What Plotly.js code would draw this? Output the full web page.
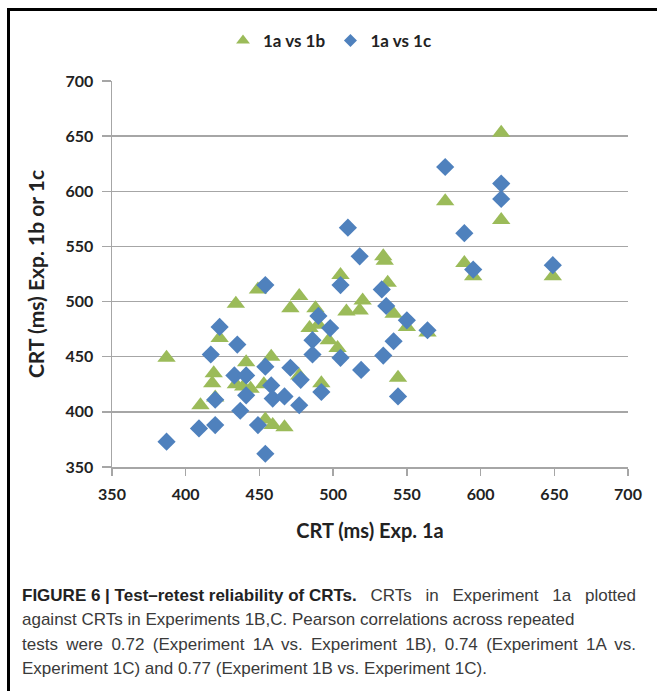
<!DOCTYPE html>
<html>
<head>
<meta charset="utf-8">
<script src="https://cdn.plot.ly/plotly-3.0.1.min.js"></script>
<style>
  html, body { margin: 0; padding: 0; background: #ffffff; overflow: hidden; }
  #frame { position: absolute; left: 7px; top: 8px; width: 700px; height: 720px; border: 3px solid #000; box-sizing: border-box; }
  #chart { position: absolute; left: 0; top: 0; width: 657px; height: 691px; }
  #caption { position: absolute; left: 22px; top: 584px; width: 614px;
             font-family: 'Liberation Sans', Arial, sans-serif; font-size: 17px; line-height: 24.3px; color: #3a3a3a; }
  #caption div { white-space: nowrap; }
  #caption .j { text-align: justify; text-align-last: justify; white-space: normal; }
  #caption b { color: #222; display: inline-block; }
</style>
</head>
<body>
<div id="frame"></div>
<div id="chart"></div>
<div id="caption"></div>
<script>
// Series "1a vs 1b" (green triangles)
const x1b = [387,410,418,419,420,423,434,434,439,444,441,449,453,454,458,459,467,471,477,477,484,488,490,492,497,503,505,509,518,520,534,535,537,541,544,550,564,576,589,595,614,614,649];
const y1b = [449,406,426,435,413,467,498,425,423,421,445,511,425,393,450,388,386,494,505,433,476,494,479,426,465,458,524,491,492,501,541,537,517,489,431,477,472,591,535,523,653,574,523];
// Series "1a vs 1c" (blue diamonds)
const x1c = [387,409,417,420,420,423,433,435,437,441,441,449,454,454,454,458,459,467,471,478,477,486,486,490,492,498,505,505,510,518,519,533,534,536,541,544,550,564,576,589,595,614,614,649];
const y1c = [373,385,452,411,388,477,433,461,401,433,415,388,441,362,515,424,412,414,440,429,406,465,452,487,418,476,449,515,567,541,438,511,451,496,464,414,483,474,622,562,529,607,593,533];

const seriesNames = ["1a vs 1b", "1a vs 1c"];
const seriesColors = ["#9BBB59", "#4F81BD"];
const tickVals = [350,400,450,500,550,600,650,700];
const xTitle = "CRT (ms) Exp. 1a";
const yTitle = "CRT (ms) Exp. 1b or 1c";
const captionLines = [
  "<b>FIGURE 6 | Test–retest reliability of CRTs.</b> CRTs in Experiment 1a plotted",
  "against CRTs in Experiments 1B,C. Pearson correlations across repeated",
  "tests were 0.72 (Experiment 1A vs. Experiment 1B), 0.74 (Experiment 1A vs.",
  "Experiment 1C) and 0.77 (Experiment 1B vs. Experiment 1C)."
];
const justifiedLines = [true, false, true, false];

const plotTop = 81, plotBottom = 467, plotLeft = 112, plotRight = 628;
const plotH = plotBottom - plotTop, plotW = plotRight - plotLeft;
function px(pix) { return (pix - plotLeft) / plotW; }

const traces = [
  { x: x1b, y: y1b, type: "scatter", mode: "markers", name: seriesNames[0], showlegend: false,
    marker: { symbol: "triangle-up", size: 16, color: seriesColors[0] } },
  { x: x1c, y: y1c, type: "scatter", mode: "markers", name: seriesNames[1], showlegend: false,
    marker: { symbol: "diamond", size: 14, color: seriesColors[1] } },
  // legend entries (smaller symbols, as in the original legend)
  { x: [null], y: [null], type: "scatter", mode: "markers", name: seriesNames[0],
    marker: { symbol: "triangle-up", size: 12, color: seriesColors[0] } },
  { x: [null], y: [null], type: "scatter", mode: "markers", name: seriesNames[1],
    marker: { symbol: "diamond", size: 10, color: seriesColors[1] } }
];

const boldFont = "Lato, 'DejaVu Sans', sans-serif";
const tickFont = { family: boldFont, size: 16, color: "#222", weight: "bold" };
const gridColor = "#a6a6a6";

const layout = {
  width: 657, height: 691,
  margin: { l: plotLeft, r: 657 - plotRight, t: plotTop, b: 691 - plotBottom, pad: 0 },
  paper_bgcolor: "rgba(0,0,0,0)", plot_bgcolor: "#ffffff",
  showlegend: true,
  legend: { orientation: "h", x: px(330), y: 1 + (plotTop - 41) / plotH, xanchor: "center", yanchor: "middle",
    font: { family: boldFont, size: 17, color: "#222", weight: "bold" },
    itemwidth: 30, tracegroupgap: 0, bgcolor: "rgba(0,0,0,0)" },
  xaxis: {
    range: [350, 700], tickvals: tickVals, ticktext: tickVals.map(String),
    showgrid: false, zeroline: false, showline: true, linecolor: gridColor, linewidth: 1.5,
    ticks: "outside", ticklen: 7, tickcolor: gridColor, tickwidth: 1.5,
    ticklabelstandoff: 5,
    tickfont: tickFont, fixedrange: true,
    title: { text: xTitle, font: { family: boldFont, size: 20, color: "#222", weight: "bold" }, standoff: 22 }
  },
  yaxis: {
    range: [350, 700], tickvals: tickVals, ticktext: tickVals.map(String),
    showgrid: true, gridcolor: gridColor, gridwidth: 1.5,
    zeroline: false, showline: true, linecolor: gridColor, linewidth: 1.5,
    ticks: "outside", ticklen: 9, tickcolor: gridColor, tickwidth: 1.5,
    ticklabelstandoff: 5,
    tickfont: tickFont, fixedrange: true,
    title: { text: yTitle, font: { family: boldFont, size: 21, color: "#222", weight: "bold" }, standoff: 15 }
  }
};

Plotly.newPlot("chart", traces, layout, { displayModeBar: false, staticPlot: true });

const cap = document.getElementById("caption");
captionLines.forEach((t, i) => {
  const d = document.createElement("div");
  if (justifiedLines[i]) d.className = "j";
  d.innerHTML = t;
  cap.appendChild(d);
});
</script>
</body>
</html>
